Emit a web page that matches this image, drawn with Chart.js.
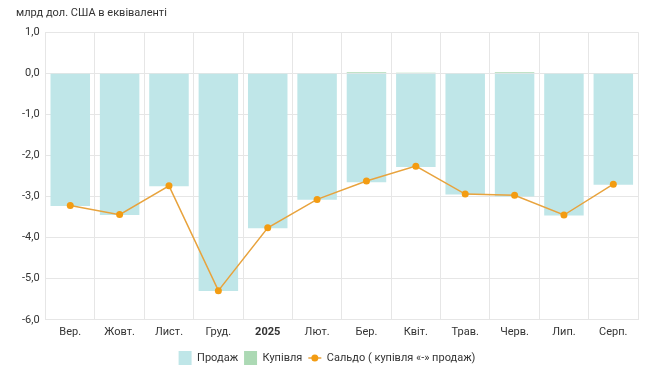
<!DOCTYPE html>
<html>
<head>
<meta charset="utf-8">
<script src="https://cdn.jsdelivr.net/npm/chart.js@4/dist/chart.umd.min.js"></script>
<style>
  html, body { margin: 0; padding: 0; background: #fff; }
  #wrap { width: 650px; height: 383px; }
</style>
</head>
<body>
<div id="wrap"><canvas id="chart"></canvas></div>
<script>
const months = ['Вер.', 'Жовт.', 'Лист.', 'Груд.', '2025', 'Лют.', 'Бер.', 'Квіт.', 'Трав.', 'Черв.', 'Лип.', 'Серп.'];
const sales = [-3.23, -3.45, -2.75, -5.30, -3.77, -3.08, -2.65, -2.28, -2.95, -3.00, -3.46, -2.71];
const purchases = [0.01, 0.01, 0.01, 0.01, 0.01, 0.01, 0.03, 0.02, 0.01, 0.03, 0.01, 0.01];
const balance = [-3.22, -3.44, -2.74, -5.29, -3.76, -3.07, -2.62, -2.26, -2.94, -2.97, -3.45, -2.70];
const yTicks = [1, 0, -1, -2, -3, -4, -5, -6];

const gridColor = '#e6e6e6';
const textColor = '#333333';
const fontFamily = 'Roboto, "Noto Sans", sans-serif';

// line-with-dot marker for the balance entry in the legend
const legendLineMarker = {
  id: 'legendLineMarker',
  afterDraw(chart) {
    const legend = chart.legend;
    if (!legend || !legend.legendHitBoxes) return;
    const ctx = chart.ctx;
    legend.legendItems.forEach((item, i) => {
      if (item.datasetIndex !== 2) return;
      const box = legend.legendHitBoxes[i];
      const cy = box.top + box.height / 2;
      ctx.save();
      ctx.strokeStyle = '#e8a33d';
      ctx.lineWidth = 1.5;
      ctx.beginPath();
      ctx.moveTo(box.left, cy);
      ctx.lineTo(box.left + 13, cy);
      ctx.stroke();
      ctx.fillStyle = '#f39c12';
      ctx.beginPath();
      ctx.arc(box.left + 6.5, cy, 3.5, 0, Math.PI * 2);
      ctx.fill();
      ctx.restore();
    });
  },
};

new Chart(document.getElementById('chart'), {
  type: 'bar',
  data: {
    labels: months,
    datasets: [
      {
        label: 'Продаж',
        data: sales,
        backgroundColor: '#bfe6e8',
        barPercentage: 1,
        categoryPercentage: 0.8,
        order: 1,
      },
      {
        label: 'Купівля',
        data: purchases,
        backgroundColor: '#acd9b4',
        barPercentage: 1,
        categoryPercentage: 0.8,
        order: 1,
      },
      {
        type: 'line',
        label: 'Сальдо ( купівля «-» продаж)',
        data: balance,
        borderColor: '#e8a33d',
        borderWidth: 1.5,
        pointRadius: 3.5,
        pointBackgroundColor: '#f39c12',
        pointBorderWidth: 0,
        tension: 0,
        order: 0,
      },
    ],
  },
  options: {
    responsive: true,
    maintainAspectRatio: false,
    animation: false,
    layout: {
      padding: { left: 16, right: 12, top: 0, bottom: 8 },
    },
    scales: {
      x: {
        stacked: true,
        grid: { color: gridColor, drawTicks: false },
        border: { color: gridColor },
        ticks: {
          padding: 6,
          color: textColor,
          font: (ctx) => ({
            size: 11,
            family: fontFamily,
            weight: months[ctx.index] === '2025' ? 'bold' : 'normal',
          }),
        },
      },
      y: {
        min: -6,
        max: 1,
        grid: { color: gridColor, drawTicks: false },
        border: { color: gridColor },
        afterBuildTicks: (scale) => {
          scale.ticks = yTicks.map((v) => ({ value: v }));
        },
        ticks: {
          padding: 6,
          color: textColor,
          font: { size: 11, family: fontFamily },
          callback: (val) => val.toFixed(1).replace('.', ','),
        },
      },
    },
    plugins: {
      title: {
        display: true,
        text: 'млрд дол. США в еквіваленті',
        align: 'start',
        color: textColor,
        font: { size: 11, family: fontFamily, weight: 'normal' },
        padding: { top: 7, bottom: 12 },
      },
      legend: {
        position: 'bottom',
        labels: {
          boxWidth: 13,
          boxHeight: 14,
          padding: 6,
          color: textColor,
          font: { size: 11, family: fontFamily },
          sort: (a, b) => a.datasetIndex - b.datasetIndex,
          generateLabels: (chart) => {
            const items = Chart.defaults.plugins.legend.labels.generateLabels(chart);
            items.forEach((item) => {
              item.lineWidth = 0;
              if (item.datasetIndex === 2) {
                item.fillStyle = 'rgba(0,0,0,0)';
                item.strokeStyle = 'rgba(0,0,0,0)';
              }
            });
            return items;
          },
        },
      },
      tooltip: { enabled: false },
    },
  },
  plugins: [legendLineMarker],
});
</script>
</body>
</html>
